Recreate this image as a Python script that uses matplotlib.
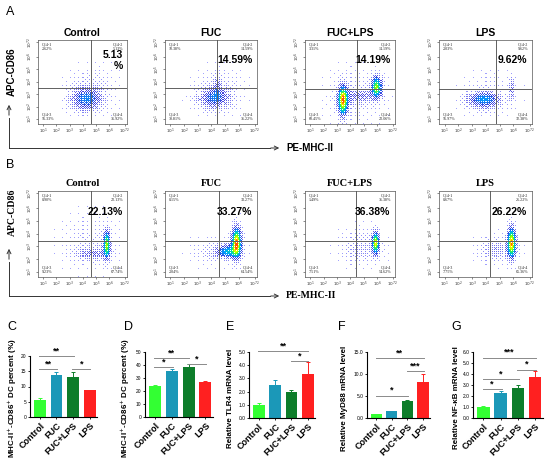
import numpy as np
import matplotlib.pyplot as plt
from matplotlib.colors import LinearSegmentedColormap
from matplotlib.patches import FancyArrowPatch

plt.rcParams['font.family'] = ['Liberation Sans', 'DejaVu Sans']

W, H = 550, 459
fig = plt.figure(figsize=(5.5, 4.59), dpi=100)


def box(x0, y0, x1, y1):
    # pixel box (top-left origin) -> axes
    return fig.add_axes([x0 / W, 1 - y1 / H, (x1 - x0) / W, (y1 - y0) / H])


def fx(x):
    return x / W


def fy(y):
    return 1 - y / H


groups = ['Control', 'FUC', 'FUC+LPS', 'LPS']
bar_colors = ['#33ff33', '#1b98b8', '#0d7d2a', '#ff2020']

# ---- flow cytometry panels ----
quad_A = [['2.62%', '5.13%', '56.33%', '35.92%'],
          ['10.38%', '14.59%', '38.81%', '36.22%'],
          ['3.31%', '14.19%', '60.45%', '22.06%'],
          ['2.03%', '9.62%', '56.97%', '32.38%']]
big_A = ['5.13\n%', '14.59%', '14.19%', '9.62%']
quad_B = [['0.90%', '22.13%', '9.23%', '67.74%'],
          ['0.15%', '33.27%', '2.04%', '64.54%'],
          ['1.49%', '36.38%', '7.51%', '54.62%'],
          ['0.67%', '26.22%', '7.75%', '65.36%']]
big_B = ['22.13%', '33.27%', '36.38%', '26.22%']

gate_A = [(0.59, 0.43), (0.57, 0.43), (0.58, 0.42), (0.61, 0.42)]
gate_B = [(0.59, 0.42), (0.59, 0.42), (0.57, 0.42), (0.55, 0.42)]

# cell populations: (cx, cy, sx, sy, peak) in axes fractions
clouds_A = [
    [(0.54, 0.30, 0.11, 0.09, 0.36), (0.62, 0.42, 0.16, 0.16, 0.06)],
    [(0.53, 0.31, 0.11, 0.08, 0.32), (0.57, 0.46, 0.03, 0.10, 0.15),
     (0.60, 0.40, 0.16, 0.16, 0.06)],
    [(0.42, 0.28, 0.035, 0.11, 0.95), (0.79, 0.44, 0.035, 0.08, 0.75),
     (0.60, 0.34, 0.14, 0.06, 0.18), (0.55, 0.35, 0.20, 0.20, 0.05)],
    [(0.48, 0.29, 0.11, 0.06, 0.40), (0.78, 0.42, 0.02, 0.09, 0.20),
     (0.55, 0.35, 0.18, 0.15, 0.05)],
]
clouds_B = [
    [(0.77, 0.38, 0.025, 0.10, 0.75), (0.62, 0.27, 0.12, 0.05, 0.18),
     (0.60, 0.40, 0.20, 0.20, 0.05)],
    [(0.78, 0.40, 0.035, 0.11, 1.00), (0.68, 0.30, 0.07, 0.05, 0.45),
     (0.55, 0.30, 0.15, 0.10, 0.08)],
    [(0.78, 0.40, 0.025, 0.08, 0.85), (0.62, 0.35, 0.14, 0.12, 0.10)],
    [(0.78, 0.40, 0.03, 0.11, 0.95), (0.62, 0.32, 0.12, 0.09, 0.14)],
]

flow_cmap = LinearSegmentedColormap.from_list(
    'flow', [(0.0, '#a8a8ff'), (0.25, '#3c3cdc'), (0.45, '#00a0ff'),
             (0.6, '#00e0a0'), (0.75, '#80ff00'), (0.88, '#ffff00'),
             (1.0, '#ff5000')])

# ordered-dither threshold (Bayer 8x8)
bayer = np.array([[0, 2], [3, 1]])
for _ in range(2):
    bayer = np.block([[4 * bayer, 4 * bayer + 2], [4 * bayer + 3, 4 * bayer + 1]])
bayer = (bayer + 0.5) / bayer.size

lo, hi = 0.6, 7.35
tick_pos = [1, 2, 3, 4, 5, 6, 7.2]
tick_lab = [r'$10^{%s}$' % t for t in ['1', '2', '3', '4', '5', '6', '7.2']]
flow_x = [(38, 127), (165, 257), (305, 395), (439, 532)]


def flow_plot(ax, clusters, gate, quads, big):
    N = 88
    g = (np.arange(N) + 0.5) / N
    gx, gy = np.meshgrid(g, g)
    d = np.zeros_like(gx)
    for cx, cy, sx, sy, pk in clusters:
        d += pk * np.exp(-0.5 * ((gx - cx) / sx) ** 2 - 0.5 * ((gy - cy) / sy) ** 2)
    p = np.clip(d / 0.5, 0, 0.85)
    thr = np.tile(bayer, (N // 8 + 1, N // 8 + 1))[:N, :N]
    rgba = flow_cmap(np.clip(d, 0, 1))
    rgba[..., 3] = (p > thr).astype(float)
    ax.imshow(rgba, origin='lower', extent=[lo, hi, lo, hi],
              interpolation='nearest', aspect='auto', zorder=1)
    ax.set_xlim(lo, hi)
    ax.set_ylim(lo, hi)
    vx = lo + gate[0] * (hi - lo)
    hy = lo + gate[1] * (hi - lo)
    ax.axvline(vx, color='#606060', lw=0.7, zorder=2)
    ax.axhline(hy, color='#606060', lw=0.7, zorder=2)
    ax.set_xticks(tick_pos)
    ax.set_xticklabels(tick_lab, fontsize=3)
    ax.set_yticks(tick_pos)
    ax.set_yticklabels(tick_lab, fontsize=3, rotation=90, va='center')
    ax.tick_params(length=1.2, width=0.4, pad=0.8, colors='#333333')
    for s in ax.spines.values():
        s.set_linewidth(0.5)
        s.set_color('#555555')
    qfont = dict(fontsize=3, family='Liberation Serif', color='#222222',
                 transform=ax.transAxes)
    ax.text(0.04, 0.97, 'Q14-1\n' + quads[0], ha='left', va='top', **qfont)
    ax.text(0.96, 0.97, 'Q14-2\n' + quads[1], ha='right', va='top', **qfont)
    ax.text(0.04, 0.03, 'Q14-3\n' + quads[2], ha='left', va='bottom', **qfont)
    ax.text(0.96, 0.03, 'Q14-4\n' + quads[3], ha='right', va='bottom', **qfont)
    ax.text(0.95, 0.76, big, ha='right', va='center', fontsize=7.5,
            fontweight='bold', transform=ax.transAxes, linespacing=1.1)


for i in range(4):
    x0, x1 = flow_x[i]
    ax = box(x0, 40, x1, 124)
    flow_plot(ax, clouds_A[i], gate_A[i], quad_A[i], big_A[i])
    fig.text(fx((x0 + x1) / 2), fy(33), groups[i], ha='center', va='center',
             fontsize=7.5, fontweight='bold')
    ax = box(x0, 191, x1, 277)
    flow_plot(ax, clouds_B[i], gate_B[i], quad_B[i], big_B[i])
    fig.text(fx((x0 + x1) / 2), fy(184), groups[i], ha='center', va='center',
             fontsize=7.5, fontweight='bold', family='Liberation Serif')

# axis brackets for A and B
arrow = dict(arrowstyle='->', lw=0.7, color='#333333', mutation_scale=7)
for y_h, y_top in [(148, 118), (296, 262)]:
    fig.add_artist(plt.Line2D([fx(9), fx(9)], [fy(y_h), fy(y_top)], lw=0.7, color='#333333'))
    fig.add_artist(plt.Line2D([fx(9), fx(270)], [fy(y_h), fy(y_h)], lw=0.7, color='#333333'))
    fig.add_artist(FancyArrowPatch((fx(9), fy(y_top)), (fx(9), fy(y_top - 16)),
                                   transform=fig.transFigure, **arrow))
    fig.add_artist(FancyArrowPatch((fx(268), fy(y_h)), (fx(282), fy(y_h)),
                                   transform=fig.transFigure, **arrow))
fig.text(fx(12), fy(72), 'APC-CD86', rotation=90, ha='center', va='center',
         fontsize=7, fontweight='bold')
fig.text(fx(286), fy(148), 'PE-MHC-II', ha='left', va='center', fontsize=7,
         fontweight='bold')
fig.text(fx(12), fy(212), 'APC-CD86', rotation=90, ha='center', va='center',
         fontsize=7, fontweight='bold', family='Liberation Serif')
fig.text(fx(286), fy(296), 'PE-MHC-II', ha='left', va='center', fontsize=7,
         fontweight='bold', family='Liberation Serif')

# ---- bar panels ----
vals_C = [5.7, 13.9, 13.2, 8.7]
err_C = [0.6, 0.9, 1.4, 0.1]
vals_D = [23.5, 35.2, 38.2, 26.8]
err_D = [1.5, 1.8, 2.3, 0.7]
vals_E = [1.0, 2.5, 1.95, 3.35]
err_E = [0.1, 0.4, 0.15, 0.9]
vals_F = [0.9, 1.5, 3.9, 8.2]
err_F = [0.1, 0.2, 0.1, 1.7]
vals_G = [1.0, 2.25, 2.7, 3.7]
err_G = [0.05, 0.25, 0.3, 0.55]

sig_C = [(0, 2, 20.0, '**'), (0, 1, 15.6, '**'), (2, 3, 15.6, '*')]
sig_D = [(0, 1, 38.5, '*'), (0, 2, 45.5, '**'), (2, 3, 41.0, '*')]
sig_E = [(0, 3, 5.05, '**'), (2, 3, 4.3, '*')]
sig_F = [(0, 3, 13.7, '**'), (2, 3, 10.7, '***'), (0, 2, 5.1, '*')]
sig_G = [(0, 3, 5.5, '***'), (2, 3, 4.4, '*'), (0, 2, 3.55, '*'), (0, 1, 2.6, '*')]

ticks_C = [0, 5, 10, 15, 20]
ticks_D = [0, 10, 20, 30, 40, 50]
ticks_E = [0, 1, 2, 3, 4, 5]
ticks_F = [0, 5, 10, 15]
ticks_G = [0, 1, 2, 3, 4, 5, 6]

ylab_C = r'MHC-II$^{+}$-CD86$^{+}$ DC percent (%)'
ylab_E = 'Relative TLR4 mRNA level'
ylab_F = 'Relative MyD88 mRNA level'
ylab_G = 'Relative NF-κB mRNA level'

panels = [
    ('C', (30, 356, 97, 417), vals_C, err_C, sig_C, ticks_C, False, ylab_C, 12, 7),
    ('D', (145, 352, 213, 417), vals_D, err_D, sig_D, ticks_D, False, ylab_C, 125, 124),
    ('E', (249, 352, 315, 418), vals_E, err_E, sig_E, ticks_E, True, ylab_E, 231, 226),
    ('F', (367, 352, 430, 418), vals_F, err_F, sig_F, ticks_F, True, ylab_F, 344, 338),
    ('G', (473, 352, 543, 418), vals_G, err_G, sig_G, ticks_G, True, ylab_G, 456, 451),
]

for letter, bx, vals, errs, sigs, ticks, dec, ylab, ylx, lx in panels:
    ax = box(*bx)
    xs = np.arange(len(groups))
    for k in range(len(groups)):
        ax.bar(xs[k], vals[k], width=0.72, color=bar_colors[k], zorder=2)
        ax.errorbar(xs[k], vals[k], yerr=[[0], [errs[k]]], ecolor=bar_colors[k],
                    elinewidth=0.7, capsize=1.6, capthick=0.7, fmt='none', zorder=1)
    ax.set_xlim(-0.6, 3.45)
    ax.set_ylim(0, ticks[-1])
    ax.set_yticks(ticks)
    if dec:
        ax.set_yticklabels(['%.1f' % t for t in ticks])
    ax.set_xticks(xs)
    ax.set_xticklabels(groups, rotation=45, ha='right', rotation_mode='anchor',
                       fontsize=6.5, fontweight='bold')
    ax.tick_params(axis='y', labelsize=3.5, length=1.5, width=0.6, pad=1)
    ax.tick_params(axis='x', length=1.5, width=0.6, pad=1.5)
    for s in ['top', 'right']:
        ax.spines[s].set_visible(False)
    for s in ['left', 'bottom']:
        ax.spines[s].set_linewidth(0.8)
    top = ticks[-1]
    for i, j, yv, txt in sigs:
        ax.plot([xs[i] - 0.05, xs[j] + 0.05], [yv, yv], color='#8a8a8a', lw=0.7,
                clip_on=False, zorder=3)
        ax.text((xs[i] + xs[j]) / 2, yv + 0.01 * top, txt, ha='center', va='bottom',
                fontsize=6.5, fontweight='bold', clip_on=False)
    fig.text(fx(ylx), fy(398), ylab, rotation=90, ha='center', va='center',
             fontsize=5.8, fontweight='bold')
    fig.text(fx(lx), fy(327), letter, ha='left', va='center', fontsize=9)

fig.text(fx(6), fy(12), 'A', ha='left', va='center', fontsize=9)
fig.text(fx(6), fy(165), 'B', ha='left', va='center', fontsize=9)

fig.savefig('out.png', dpi=100)
